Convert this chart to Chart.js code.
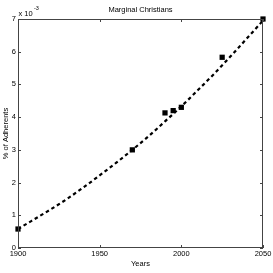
<!DOCTYPE html>
<html>
<head>
<meta charset="utf-8">
<script src="https://cdn.jsdelivr.net/npm/chart.js@4"></script>
<style>
  html, body { margin: 0; padding: 0; background: #fff; }
  canvas { display: block; }
</style>
</head>
<body>
<canvas id="chart" width="273" height="273"></canvas>
<script>
// observed values (x 10^-3)
const obsYears = [1900, 1970, 1990, 1995, 2000, 2025, 2050];
const obsValues = [0.58, 3.0, 4.13, 4.2, 4.3, 5.83, 7.0];

// fitted trend
const fitYears = [1900, 1910, 1920, 1930, 1940, 1950, 1960, 1970, 1980, 1990, 2000, 2010, 2020, 2030, 2040, 2050];
const fitValues = [0.58, 0.88, 1.18, 1.5, 1.85, 2.22, 2.6, 3.0, 3.42, 3.87, 4.33, 4.82, 5.32, 5.85, 6.4, 6.95];

const xTicks = [1900, 1950, 2000, 2050];
const yTicks = [0, 1, 2, 3, 4, 5, 6, 7];

const FONT = 'Liberation Sans, Arial, Helvetica, sans-serif';
const AXIS = '#444';

// box round the plot with inward ticks, plus the exponent note
const boxPlugin = {
    id: 'box',
    afterDraw(chart) {
        const ctx = chart.ctx;
        const a = chart.chartArea;
        const xs = chart.scales.x, ys = chart.scales.y;
        ctx.save();
        ctx.strokeStyle = AXIS;
        ctx.lineWidth = 1;
        ctx.strokeRect(Math.round(a.left) + 0.5, Math.round(a.top) + 0.5,
            Math.round(a.right - a.left) - 1, Math.round(a.bottom - a.top) - 1);
        ctx.beginPath();
        xTicks.forEach(function (v) {
            const px = Math.round(xs.getPixelForValue(v)) + 0.5;
            ctx.moveTo(px, a.bottom); ctx.lineTo(px, a.bottom - 3);
            ctx.moveTo(px, a.top); ctx.lineTo(px, a.top + 3);
        });
        yTicks.forEach(function (v) {
            const py = Math.round(ys.getPixelForValue(v)) + 0.5;
            ctx.moveTo(a.left, py); ctx.lineTo(a.left + 3, py);
            ctx.moveTo(a.right, py); ctx.lineTo(a.right - 3, py);
        });
        ctx.stroke();

        ctx.fillStyle = '#000';
        ctx.textBaseline = 'alphabetic';
        ctx.textAlign = 'left';
        ctx.font = '7.5px ' + FONT;
        ctx.fillText('x 10', a.left + 0.5, 16);
        ctx.font = '5.5px ' + FONT;
        ctx.fillText('-3', a.left + 16, 10);
        ctx.restore();
    }
};

const ctx = document.getElementById('chart');

new Chart(ctx, {
    type: 'scatter',
    data: {
        datasets: [
            {
                label: 'fit',
                data: fitYears.map((y, i) => ({ x: y, y: fitValues[i] })),
                showLine: true,
                borderColor: '#000',
                borderWidth: 2.2,
                borderDash: [3.5, 3],
                pointRadius: 0,
                tension: 0.4,
                cubicInterpolationMode: 'monotone',
                clip: false,
            },
            {
                label: 'observed',
                data: obsYears.map((y, i) => ({ x: y, y: obsValues[i] })),
                pointStyle: 'rect',
                pointRadius: 3.7,
                backgroundColor: '#000',
                borderColor: '#000',
                borderWidth: 0,
                clip: false,
            },
        ],
    },
    options: {
        responsive: false,
        animation: false,
        layout: { padding: { right: 10 } },
        plugins: {
            legend: { display: false },
            tooltip: { enabled: false },
            title: {
                display: true,
                text: 'Marginal Christians',
                fullSize: false,
                color: '#000',
                font: { family: FONT, size: 7.5, weight: 'normal' },
                padding: { top: 5, bottom: 5 },
            },
        },
        scales: {
            x: {
                type: 'linear',
                min: 1900,
                max: 2050,
                afterFit: s => { s.height = 25; },
                afterBuildTicks: s => { s.ticks = xTicks.map(v => ({ value: v })); },
                grid: { display: false, drawTicks: false },
                border: { display: false },
                ticks: {
                    autoSkip: false,
                    maxRotation: 0,
                    padding: 1,
                    color: '#000',
                    font: { family: FONT, size: 7.5 },
                    callback: v => String(v),
                },
                title: {
                    display: true,
                    text: 'Years',
                    color: '#000',
                    font: { family: FONT, size: 7.5 },
                    padding: { top: 0, bottom: 4.5 },
                },
            },
            y: {
                min: 0,
                max: 7,
                afterFit: s => { s.width = 18; },
                afterBuildTicks: s => { s.ticks = yTicks.map(v => ({ value: v })); },
                grid: { display: false, drawTicks: false },
                border: { display: false },
                ticks: {
                    padding: 2,
                    color: '#000',
                    font: { family: FONT, size: 7.5 },
                    callback: v => String(v),
                },
                title: {
                    display: true,
                    text: '% of Adherents',
                    color: '#000',
                    font: { family: FONT, size: 7.5 },
                    padding: { top: 1.5, bottom: 0 },
                },
            },
        },
    },
    plugins: [boxPlugin],
});
</script>
</body>
</html>
